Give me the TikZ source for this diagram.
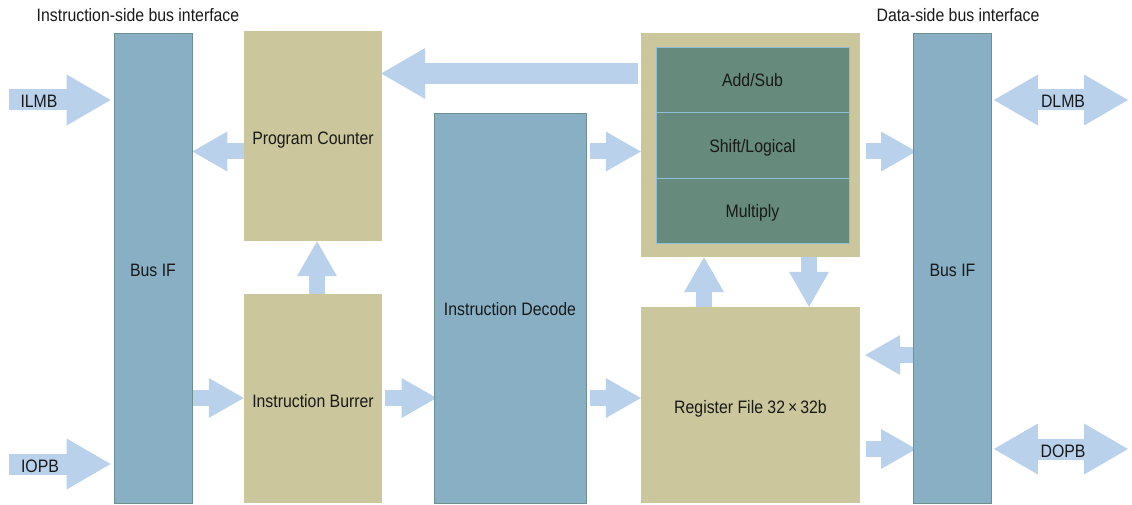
\documentclass[tikz,border=0pt]{standalone}
\usepackage{fontspec}
\setmainfont{Liberation Sans}[FakeStretch=0.88]
\usepackage{tikz}
\usetikzlibrary{arrows.meta,backgrounds,calc}
\definecolor{busblue}{HTML}{88AFC4}
\definecolor{busedge}{HTML}{6E8F8A}
\definecolor{unittan}{HTML}{CBC69C}
\definecolor{alugreen}{HTML}{668A7B}
\definecolor{aluedge}{HTML}{8DBFD9}
\definecolor{flowblue}{HTML}{BAD1EB}

\begin{document}
\begin{tikzpicture}[x=1pt, y=-1pt, every node/.style={font=\fontsize{18}{20}\selectfont, text=black!90}]
  % Block styles
  \tikzstyle{busif} = [rectangle, fill=busblue, draw=busedge, line width=0.8pt, inner sep=0pt, text height=18pt, text depth=2pt, minimum width=78pt, minimum height=470pt]
  \tikzstyle{unit} = [rectangle, fill=unittan, inner sep=0pt, text height=19pt, text depth=2pt]
  \tikzstyle{decode} = [rectangle, fill=busblue, draw=busedge, line width=0.8pt, inner sep=0pt, text height=17pt, text depth=2pt, minimum width=152pt, minimum height=390pt]
  \tikzstyle{alucell} = [rectangle, fill=alugreen, draw=aluedge, line width=0.8pt, inner sep=0pt, text height=17pt, text depth=2pt, minimum width=193pt, minimum height=65pt]
  \tikzstyle{smallflow} = [draw=flowblue, line width=16pt, -{Triangle[width=40pt, length=35pt, line width=0pt]}]
  \tikzstyle{bigflow} = [draw=flowblue, line width=21pt, -{Triangle[width=51pt, length=44pt, line width=0pt]}]
  \tikzstyle{dualflow} = [draw=flowblue, line width=21pt, {Triangle[width=51pt, length=44pt, line width=0pt]}-{Triangle[width=51pt, length=44pt, line width=0pt]}]

  \useasboundingbox (0,0) rectangle (1132,505);

  % Bus interfaces
  \node[busif] (busL) at (153, 268) {Bus IF};
  \node[busif] (busR) at (952.5, 268) {Bus IF};
  \node (ititle) at (138, 15) {Instruction-side bus interface};
  \node (dtitle) at (958, 15) {Data-side bus interface};

  % Fetch stage
  \node[unit, minimum width=138pt, minimum height=210pt] (pc) at (313, 136) {Program Counter};
  \node[unit, minimum width=138pt, minimum height=209pt] (ibuf) at (313, 398.5) {Instruction Burrer};

  % Decode
  \node[decode] (decode) at (510, 308) {Instruction Decode};

  % Execution units
  \node[unit, minimum width=219pt, minimum height=224pt] (alu) at (750.5, 145) {};
  \node[alucell] (addsub) at (752.5, 79.5) {Add/Sub};
  \node[alucell, minimum height=66pt] (shift) at (752.5, 145) {Shift/Logical};
  \node[alucell] (mult) at (752.5, 210.5) {Multiply};
  \node[unit, minimum width=219pt, minimum height=196pt] (regfile) at (750.5, 405) {Register File 32\,×\,32b};

  % Bus names
  \node (ilmb) at (39, 101) {ILMB};
  \node (iopb) at (40, 466) {IOPB};
  \node (dlmb) at (1063, 101) {DLMB};
  \node (dopb) at (1063, 451) {DOPB};

  % Arrow rows and columns
  \coordinate (ilmbS) at (9, 100);
  \coordinate (iopbS) at (9, 464);
  \coordinate (dlmbE) at (1128, 100);
  \coordinate (dopbE) at (1128, 449);
  \coordinate (rowA) at (0, 73.5);
  \coordinate (rowB) at (0, 151.5);
  \coordinate (rowC) at (0, 355);
  \coordinate (rowD) at (0, 398);
  \coordinate (rowE) at (0, 449);
  \coordinate (colA) at (317, 0);
  \coordinate (colB) at (704, 0);
  \coordinate (colC) at (809, 0);

  % Data flow
  \begin{pgfonlayer}{background}
    \draw[bigflow, shorten >=3pt] (ilmbS) -- (busL.west |- ilmbS);
    \draw[bigflow, shorten >=3pt] (iopbS) -- (busL.west |- iopbS);
    \draw[smallflow] (pc.west |- rowB) -- (busL.east |- rowB);
    \draw[bigflow, shorten <=3pt, shorten >=-1pt] (alu.west |- rowA) -- (pc.east |- rowA);
    \draw[smallflow] (ibuf.north -| colA) -- (pc.south -| colA);
    \draw[smallflow] (busL.east |- rowD) -- (ibuf.west |- rowD);
    \draw[smallflow, shorten <=3pt, shorten >=-3pt] (ibuf.east |- rowD) -- (decode.west |- rowD);
    \draw[smallflow, shorten <=4pt] (decode.east |- rowB) -- (alu.west |- rowB);
    \draw[smallflow, shorten <=4pt] (decode.east |- rowD) -- (regfile.west |- rowD);
    \draw[smallflow] (regfile.north -| colB) -- (alu.south -| colB);
    \draw[smallflow] (alu.south -| colC) -- (regfile.north -| colC);
    \draw[smallflow, shorten <=6pt, shorten >=-3pt] (alu.east |- rowB) -- (busR.west |- rowB);
    \draw[smallflow, shorten <=-4pt, shorten >=5pt] (busR.west |- rowC) -- (regfile.east |- rowC);
    \draw[smallflow, shorten <=6pt, shorten >=-3pt] (regfile.east |- rowE) -- (busR.west |- rowE);
    \draw[dualflow, shorten <=2pt] (busR.east |- dlmbE) -- (dlmbE);
    \draw[dualflow, shorten <=2pt] (busR.east |- dopbE) -- (dopbE);
  \end{pgfonlayer}
\end{tikzpicture}
\end{document}
